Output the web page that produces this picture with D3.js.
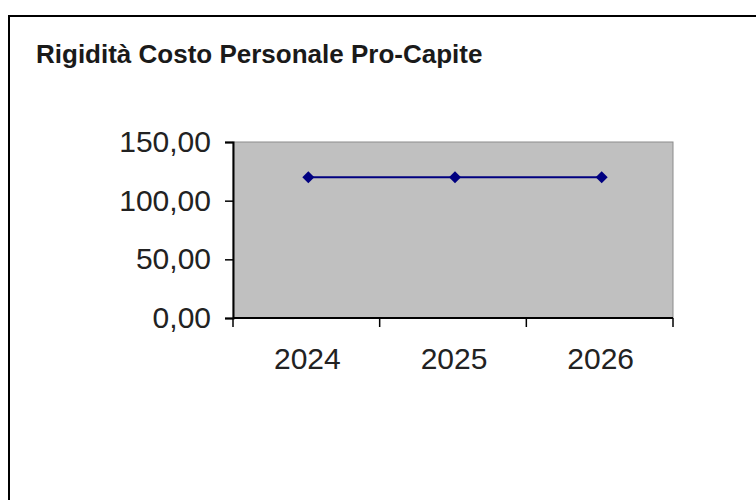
<!DOCTYPE html>
<html>
<head>
<meta charset="utf-8">
<script src="https://cdn.jsdelivr.net/npm/d3@7"></script>
<style>
  body { margin: 0; background: #fff; }
  svg { display: block; font-family: Arial, "Liberation Sans", sans-serif; }
</style>
</head>
<body>
<svg id="chart" width="756" height="500"></svg>
<script>
var anni = ["2024", "2025", "2026"];
var valori = [120, 120, 120];
var yTicks = [0, 50, 100, 150];
var titolo = "Rigidità Costo Personale Pro-Capite";

const svg = d3.select("#chart");
const plot = { left: 233, right: 673, top: 142, bottom: 318 };

// cornice esterna (tagliata a destra e in basso)
svg.append("rect")
    .attr("x", 9).attr("y", 16)
    .attr("width", 760).attr("height", 500)
    .attr("fill", "none")
    .attr("stroke", "#000")
    .attr("stroke-width", 2);

svg.append("text")
    .attr("x", 36)
    .attr("y", 63)
    .attr("font-size", "26px")
    .attr("font-weight", "bold")
    .attr("fill", "#1a1a1a")
    .text(titolo);

const x = d3.scaleBand().domain(anni).range([plot.left, plot.right]);
const y = d3.scaleLinear().domain([0, 150]).range([plot.bottom, plot.top]);

svg.append("rect")
    .attr("x", plot.left).attr("y", plot.top)
    .attr("width", plot.right - plot.left)
    .attr("height", plot.bottom - plot.top)
    .attr("fill", "#c0c0c0")
    .attr("stroke", "#8c8c8c")
    .attr("stroke-width", 1);

const fmt = v => d3.format(".2f")(v).replace(".", ",");

const yAxis = svg.append("g")
    .attr("transform", `translate(${plot.left},0)`)
    .call(d3.axisLeft(y).tickValues(yTicks).tickFormat(fmt).tickSize(8).tickPadding(14));
yAxis.select(".domain").attr("stroke", "#000").attr("stroke-width", 2);
yAxis.selectAll(".tick line").attr("stroke", "#000").attr("stroke-width", 1.5);
yAxis.selectAll("text").attr("font-size", "30px").attr("fill", "#222")
    .attr("font-family", "Arial, 'Liberation Sans', sans-serif");

// asse x con tacche ai bordi delle categorie
const xAxis = svg.append("g")
    .attr("transform", `translate(0,${plot.bottom})`);
xAxis.append("line")
    .attr("x1", plot.left).attr("x2", plot.right)
    .attr("stroke", "#000").attr("stroke-width", 2);
const bordi = anni.map(a => x(a)).concat([x(anni[anni.length - 1]) + x.bandwidth()]);
xAxis.selectAll(".tacca")
    .data(bordi)
    .join("line")
    .attr("class", "tacca")
    .attr("x1", d => d).attr("x2", d => d)
    .attr("y1", 0).attr("y2", 9)
    .attr("stroke", "#000").attr("stroke-width", 1.5);
xAxis.selectAll(".etichetta")
    .data(anni)
    .join("text")
    .attr("class", "etichetta")
    .attr("x", d => x(d) + x.bandwidth() / 2 + 1)
    .attr("y", 51)
    .attr("text-anchor", "middle")
    .attr("font-size", "30px")
    .attr("fill", "#222")
    .text(d => d);

const cx = (d, i) => x(anni[i]) + x.bandwidth() / 2 + 2;

svg.append("path")
    .datum(valori)
    .attr("fill", "none")
    .attr("stroke", "#000080")
    .attr("stroke-width", 2)
    .attr("d", d3.line().x(cx).y(d => y(d)));

svg.selectAll(".punto")
    .data(valori)
    .join("path")
    .attr("class", "punto")
    .attr("transform", (d, i) => `translate(${cx(d, i)},${y(d)})`)
    .attr("d", "M0,-6L6,0L0,6L-6,0Z")
    .attr("fill", "#000080");
</script>
</body>
</html>
